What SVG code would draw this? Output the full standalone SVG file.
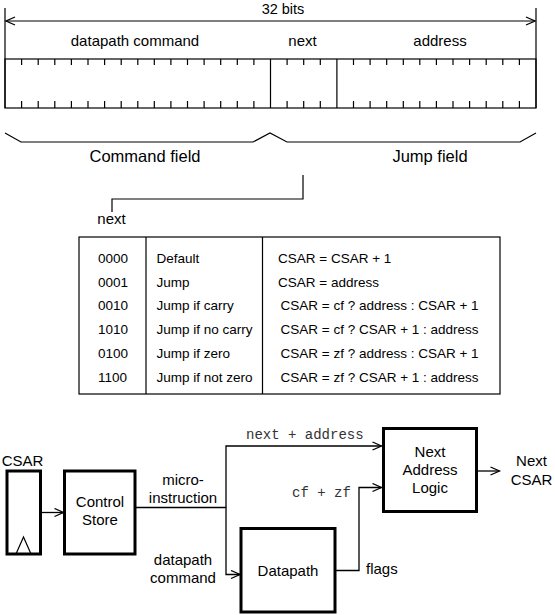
<svg xmlns="http://www.w3.org/2000/svg" width="555" height="615" viewBox="0 0 555 615">
<style>
text{font-family:"Liberation Sans",Arial,sans-serif;fill:#000}
.t15{font-size:15px}
.t16{font-size:16.5px}
.t13{font-size:13.5px}
.mono{font-family:"Liberation Mono","Courier New",monospace;font-size:14px;fill:#333}
.mid{text-anchor:middle}
.thin{fill:none;stroke:#000;stroke-width:1.2}
.box{fill:#fff;stroke:#000;stroke-width:3}
.wire{fill:none;stroke:#000;stroke-width:1.3}
</style>
<defs>
<marker id="arr" markerWidth="12" markerHeight="10" refX="10" refY="5" orient="auto-start-reverse" markerUnits="userSpaceOnUse">
<path d="M1,1 L10,5 L1,9" fill="none" stroke="#000" stroke-width="1.3"/>
</marker>
</defs>

<g id="register">
<text class="mid" style="font-size:14.5px" x="283" y="14">32 bits</text>
<path class="thin" d="M5 8V108M536 8V108"/>
<path class="thin" d="M6 21H535" marker-start="url(#arr)" marker-end="url(#arr)"/>
<text class="t15 mid" x="135" y="46">datapath command</text>
<text class="t15 mid" x="302.5" y="46">next</text>
<text class="t15 mid" x="440" y="46">address</text>
<rect class="thin" x="5" y="59" width="531" height="49"/>
<path class="thin" d="M270.5 59V108M336.9 59V108"/>
<path class="thin" d="M21.6 59v6M38.2 59v6M54.8 59v6M71.4 59v6M88 59v6M104.6 59v6M121.2 59v6M137.8 59v6M154.3 59v6M170.9 59v6M187.5 59v6M204.1 59v6M220.7 59v6M237.3 59v6M253.9 59v6M287.1 59v6M303.7 59v6M320.3 59v6M353.5 59v6M370.1 59v6M386.7 59v6M403.3 59v6M419.8 59v6M436.4 59v6M453 59v6M469.6 59v6M486.2 59v6M502.8 59v6M519.4 59v6"/>
<path class="thin" d="M21.6 108v-7M38.2 108v-7M54.8 108v-7M71.4 108v-7M88 108v-7M104.6 108v-7M121.2 108v-7M137.8 108v-7M154.3 108v-7M170.9 108v-7M187.5 108v-7M204.1 108v-7M220.7 108v-7M237.3 108v-7M253.9 108v-7M287.1 108v-7M303.7 108v-7M320.3 108v-7M353.5 108v-7M370.1 108v-7M386.7 108v-7M403.3 108v-7M419.8 108v-7M436.4 108v-7M453 108v-7M469.6 108v-7M486.2 108v-7M502.8 108v-7M519.4 108v-7"/>
</g>

<g id="braces">
<path class="thin" d="M5 133L21 142H253L270 133L287 142H520L536 133"/>
<text class="t16 mid" x="145" y="162">Command field</text>
<text class="t16 mid" x="430" y="162">Jump field</text>
</g>

<g id="next-pointer">
<path class="thin" d="M303 175V199H112V212"/>
<text class="t15 mid" x="111.5" y="224">next</text>
</g>

<g id="table">
<rect class="thin" x="79" y="237" width="421" height="157"/>
<path class="thin" d="M146 237V394M262.5 237V394"/>
<g class="t13">
<text x="98" y="263">0000</text>
<text x="98" y="287">0001</text>
<text x="98" y="310">0010</text>
<text x="98" y="334">1010</text>
<text x="98" y="358">0100</text>
<text x="98" y="382">1100</text>
<text x="156.5" y="263">Default</text>
<text x="156.5" y="287">Jump</text>
<text x="156.5" y="310">Jump if carry</text>
<text x="156.5" y="334">Jump if no carry</text>
<text x="156.5" y="358">Jump if zero</text>
<text x="156.5" y="382">Jump if not zero</text>
<text x="278" y="263">CSAR = CSAR + 1</text>
<text x="278" y="287">CSAR = address</text>
<text x="280.5" y="310">CSAR = cf ? address : CSAR + 1</text>
<text x="280.5" y="334">CSAR = cf ? CSAR + 1 : address</text>
<text x="280.5" y="358">CSAR = zf ? address : CSAR + 1</text>
<text x="280.5" y="382">CSAR = zf ? CSAR + 1 : address</text>
</g>
</g>

<g id="connectors">
<path class="wire" d="M41 512.5H63.5" marker-end="url(#arr)"/>
<path class="wire" d="M135 507.5H226V574.5H240" marker-end="url(#arr)"/>
<path class="wire" d="M226 507.5V446H381.5" marker-end="url(#arr)"/>
<path class="wire" d="M335 570.5H359V487.5H381.5" marker-end="url(#arr)"/>
<path class="wire" d="M476.5 471H499.5" marker-end="url(#arr)"/>
<text class="mono" x="246" y="439">next + address</text>
<text class="mono" x="292" y="497">cf + zf</text>
<text class="t15 mid" x="183" y="485">micro-</text>
<text class="t15 mid" x="183" y="503">instruction</text>
<text class="t15 mid" x="183" y="565">datapath</text>
<text class="t15 mid" x="183" y="583">command</text>
<text class="t15" x="366" y="574">flags</text>
</g>

<g id="csar">
<text class="t15 mid" x="22.5" y="466">CSAR</text>
<rect class="box" x="7" y="471" width="33.5" height="83"/>
<path class="thin" d="M16 554L23.5 537L31 554" stroke-width="1.5"/>
</g>

<g id="control-store">
<rect class="box" x="64.5" y="471" width="70.5" height="83"/>
<text class="t15 mid" x="100" y="507">Control</text>
<text class="t15 mid" x="100" y="525">Store</text>
</g>

<g id="datapath">
<rect class="box" x="241" y="528.5" width="94" height="83.5"/>
<text class="t15 mid" x="288" y="576">Datapath</text>
</g>

<g id="next-address-logic">
<rect class="box" x="383.5" y="428.5" width="93" height="83"/>
<text class="t15 mid" x="430" y="457">Next</text>
<text class="t15 mid" x="430" y="475">Address</text>
<text class="t15 mid" x="430" y="493">Logic</text>
</g>

<g id="next-csar">
<text class="t15 mid" x="531.5" y="466">Next</text>
<text class="t15 mid" x="531.5" y="485">CSAR</text>
</g>
</svg>
